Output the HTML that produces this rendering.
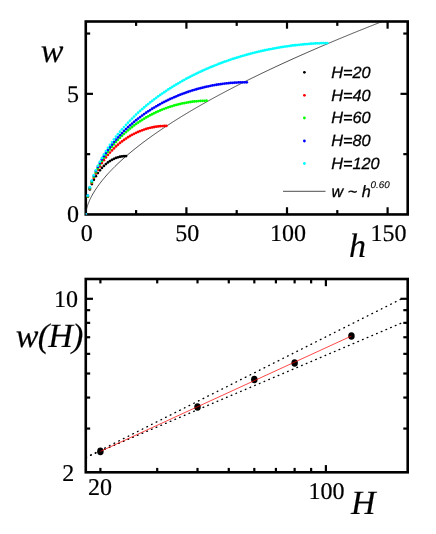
<!DOCTYPE html>
<html><head><meta charset="utf-8"><title>w vs h</title>
<style>
html,body{margin:0;padding:0;background:#fff}
svg{display:block;will-change:transform;text-rendering:geometricPrecision}
text{font-family:"Liberation Serif",serif;fill:#000;stroke:#000;stroke-width:0.18px}
.s{font-family:"Liberation Sans",sans-serif;font-style:italic;stroke-width:0.3px}
.i{font-style:italic}
</style></head><body>
<svg width="436" height="534" viewBox="0 0 436 534">
<rect width="436" height="534" fill="#fff"/>
<defs><clipPath id="c1"><rect x="85.77" y="21.5" width="321.93" height="192.95"/></clipPath>
<clipPath id="c2"><rect x="85.77" y="279.0" width="321.93" height="193.30"/></clipPath></defs>
<g stroke="#000" stroke-width="2.2">
<line x1="186.40" y1="214.45" x2="186.40" y2="207.25"/>
<line x1="186.40" y1="21.50" x2="186.40" y2="28.70"/>
<line x1="287.00" y1="214.45" x2="287.00" y2="207.25"/>
<line x1="287.00" y1="21.50" x2="287.00" y2="28.70"/>
<line x1="387.60" y1="214.45" x2="387.60" y2="207.25"/>
<line x1="387.60" y1="21.50" x2="387.60" y2="28.70"/>
<line x1="136.10" y1="214.45" x2="136.10" y2="210.05"/>
<line x1="136.10" y1="21.50" x2="136.10" y2="25.90"/>
<line x1="236.70" y1="214.45" x2="236.70" y2="210.05"/>
<line x1="236.70" y1="21.50" x2="236.70" y2="25.90"/>
<line x1="337.30" y1="214.45" x2="337.30" y2="210.05"/>
<line x1="337.30" y1="21.50" x2="337.30" y2="25.90"/>
<line x1="85.77" y1="93.85" x2="92.97" y2="93.85"/>
<line x1="407.70" y1="93.85" x2="400.50" y2="93.85"/>
<line x1="85.77" y1="154.15" x2="90.17" y2="154.15"/>
<line x1="407.70" y1="154.15" x2="403.30" y2="154.15"/>
<line x1="85.77" y1="33.55" x2="90.17" y2="33.55"/>
<line x1="407.70" y1="33.55" x2="403.30" y2="33.55"/>
</g>
<rect x="85.77" y="21.5" width="321.93" height="192.95" fill="none" stroke="#000" stroke-width="2.6"/>
<g clip-path="url(#c1)">
<polyline fill="none" stroke="#111" stroke-width="0.75" points="85.80,214.45 86.00,212.03 86.20,210.78 86.40,209.76 86.60,208.88 86.81,208.08 87.01,207.35 87.21,206.66 87.41,206.01 87.61,205.39 87.81,204.80 88.01,204.23 88.21,203.69 88.42,203.16 88.62,202.64 88.82,202.14 89.02,201.66 89.22,201.19 89.42,200.72 89.62,200.27 89.82,199.83 90.03,199.39 90.23,198.97 90.43,198.55 90.63,198.14 90.83,197.73 91.03,197.33 91.23,196.94 91.43,196.55 91.63,196.17 91.84,195.80 92.84,193.99 93.85,192.28 94.85,190.66 95.86,189.11 96.87,187.62 97.87,186.18 98.88,184.79 99.88,183.44 100.89,182.13 101.90,180.85 102.90,179.61 103.91,178.39 104.91,177.20 105.92,176.04 106.93,174.90 107.93,173.78 108.94,172.68 109.94,171.60 110.95,170.54 111.96,169.49 112.96,168.46 113.97,167.45 114.97,166.45 115.98,165.46 116.99,164.49 117.99,163.53 119.00,162.58 120.00,161.64 121.01,160.71 122.02,159.80 123.02,158.89 124.03,158.00 125.03,157.11 126.04,156.23 127.05,155.36 128.05,154.50 129.06,153.65 130.06,152.81 131.07,151.97 132.08,151.14 133.08,150.32 134.09,149.50 135.09,148.69 136.10,147.89 137.11,147.10 138.11,146.31 139.12,145.52 140.12,144.75 141.13,143.97 142.14,143.21 143.14,142.45 144.15,141.69 145.15,140.94 146.16,140.20 147.17,139.46 148.17,138.72 149.18,137.99 150.18,137.27 151.19,136.54 152.20,135.83 153.20,135.12 154.21,134.41 155.21,133.70 156.22,133.00 157.23,132.31 158.23,131.61 159.24,130.93 160.24,130.24 161.25,129.56 162.26,128.88 163.26,128.21 164.27,127.54 165.27,126.87 166.28,126.21 167.29,125.55 168.29,124.89 169.30,124.24 170.30,123.59 171.31,122.94 172.32,122.30 173.32,121.65 174.33,121.02 175.33,120.38 176.34,119.75 177.35,119.12 178.35,118.49 179.36,117.87 180.36,117.24 181.37,116.62 182.38,116.01 183.38,115.39 184.39,114.78 185.39,114.17 186.40,113.57 187.41,112.96 188.41,112.36 189.42,111.76 190.42,111.16 191.43,110.57 192.44,109.98 193.44,109.39 194.45,108.80 195.45,108.21 196.46,107.63 197.47,107.05 198.47,106.47 199.48,105.89 200.48,105.32 201.49,104.74 202.50,104.17 203.50,103.60 204.51,103.03 205.51,102.47 206.52,101.90 207.53,101.34 208.53,100.78 209.54,100.22 210.54,99.67 211.55,99.11 212.56,98.56 213.56,98.01 214.57,97.46 215.57,96.91 216.58,96.37 217.59,95.82 218.59,95.28 219.60,94.74 220.60,94.20 221.61,93.66 222.62,93.13 223.62,92.59 224.63,92.06 225.63,91.53 226.64,91.00 227.65,90.47 228.65,89.94 229.66,89.42 230.66,88.89 231.67,88.37 232.68,87.85 233.68,87.33 234.69,86.81 235.69,86.30 236.70,85.78 237.71,85.27 238.71,84.75 239.72,84.24 240.72,83.73 241.73,83.22 242.74,82.72 243.74,82.21 244.75,81.71 245.75,81.20 246.76,80.70 247.77,80.20 248.77,79.70 249.78,79.20 250.78,78.70 251.79,78.21 252.80,77.71 253.80,77.22 254.81,76.73 255.81,76.24 256.82,75.75 257.83,75.26 258.83,74.77 259.84,74.28 260.84,73.80 261.85,73.31 262.86,72.83 263.86,72.35 264.87,71.87 265.87,71.39 266.88,70.91 267.89,70.43 268.89,69.95 269.90,69.48 270.90,69.00 271.91,68.53 272.92,68.05 273.92,67.58 274.93,67.11 275.93,66.64 276.94,66.17 277.95,65.71 278.95,65.24 279.96,64.77 280.96,64.31 281.97,63.84 282.98,63.38 283.98,62.92 284.99,62.46 285.99,62.00 287.00,61.54 288.01,61.08 289.01,60.62 290.02,60.17 291.02,59.71 292.03,59.26 293.04,58.80 294.04,58.35 295.05,57.90 296.05,57.45 297.06,57.00 298.07,56.55 299.07,56.10 300.08,55.65 301.08,55.20 302.09,54.76 303.10,54.31 304.10,53.87 305.11,53.43 306.11,52.98 307.12,52.54 308.13,52.10 309.13,51.66 310.14,51.22 311.14,50.78 312.15,50.34 313.16,49.91 314.16,49.47 315.17,49.03 316.17,48.60 317.18,48.16 318.19,47.73 319.19,47.30 320.20,46.87 321.20,46.43 322.21,46.00 323.22,45.57 324.22,45.15 325.23,44.72 326.23,44.29 327.24,43.86 328.25,43.44 329.25,43.01 330.26,42.59 331.26,42.16 332.27,41.74 333.28,41.32 334.28,40.89 335.29,40.47 336.29,40.05 337.30,39.63 338.31,39.21 339.31,38.80 340.32,38.38 341.32,37.96 342.33,37.54 343.34,37.13 344.34,36.71 345.35,36.30 346.35,35.88 347.36,35.47 348.37,35.06 349.37,34.65 350.38,34.23 351.38,33.82 352.39,33.41 353.40,33.00 354.40,32.59 355.41,32.19 356.41,31.78 357.42,31.37 358.43,30.96 359.43,30.56 360.44,30.15 361.44,29.75 362.45,29.34 363.46,28.94 364.46,28.54 365.47,28.14 366.47,27.73 367.48,27.33 368.49,26.93 369.49,26.53 370.50,26.13 371.50,25.73 372.51,25.33 373.52,24.94 374.52,24.54 375.53,24.14 376.53,23.75 377.54,23.35 378.55,22.96 379.55,22.56 380.56,22.17 381.56,21.77 382.57,21.38 383.58,20.99 384.58,20.60 385.59,20.21"/>
<g fill="#000">
<circle cx="85.80" cy="214.45" r="1.38"/>
<circle cx="87.81" cy="196.64" r="1.38"/>
<circle cx="89.82" cy="189.43" r="1.38"/>
<circle cx="91.84" cy="184.09" r="1.38"/>
<circle cx="93.85" cy="179.78" r="1.38"/>
<circle cx="95.86" cy="176.16" r="1.38"/>
<circle cx="97.87" cy="173.04" r="1.38"/>
<circle cx="99.88" cy="170.34" r="1.38"/>
<circle cx="101.90" cy="167.96" r="1.38"/>
<circle cx="103.91" cy="165.88" r="1.38"/>
<circle cx="105.92" cy="164.04" r="1.38"/>
<circle cx="107.93" cy="162.44" r="1.38"/>
<circle cx="109.94" cy="161.05" r="1.38"/>
<circle cx="111.96" cy="159.84" r="1.38"/>
<circle cx="113.97" cy="158.82" r="1.38"/>
<circle cx="115.98" cy="157.97" r="1.38"/>
<circle cx="117.99" cy="157.28" r="1.38"/>
<circle cx="120.00" cy="156.75" r="1.38"/>
<circle cx="122.02" cy="156.38" r="1.38"/>
<circle cx="124.03" cy="156.15" r="1.38"/>
<circle cx="126.04" cy="156.08" r="1.38"/>
</g>
<g fill="#f00">
<circle cx="85.80" cy="214.45" r="1.38"/>
<circle cx="87.81" cy="196.64" r="1.38"/>
<circle cx="89.82" cy="188.85" r="1.38"/>
<circle cx="91.84" cy="182.90" r="1.38"/>
<circle cx="93.85" cy="177.92" r="1.38"/>
<circle cx="95.86" cy="173.60" r="1.38"/>
<circle cx="97.87" cy="169.75" r="1.38"/>
<circle cx="99.88" cy="166.27" r="1.38"/>
<circle cx="101.90" cy="163.10" r="1.38"/>
<circle cx="103.91" cy="160.18" r="1.38"/>
<circle cx="105.92" cy="157.47" r="1.38"/>
<circle cx="107.93" cy="154.96" r="1.38"/>
<circle cx="109.94" cy="152.62" r="1.38"/>
<circle cx="111.96" cy="150.44" r="1.38"/>
<circle cx="113.97" cy="148.39" r="1.38"/>
<circle cx="115.98" cy="146.47" r="1.38"/>
<circle cx="117.99" cy="144.67" r="1.38"/>
<circle cx="120.00" cy="142.98" r="1.38"/>
<circle cx="122.02" cy="141.39" r="1.38"/>
<circle cx="124.03" cy="139.91" r="1.38"/>
<circle cx="126.04" cy="138.51" r="1.38"/>
<circle cx="128.05" cy="137.21" r="1.38"/>
<circle cx="130.06" cy="135.99" r="1.38"/>
<circle cx="132.08" cy="134.85" r="1.38"/>
<circle cx="134.09" cy="133.79" r="1.38"/>
<circle cx="136.10" cy="132.80" r="1.38"/>
<circle cx="138.11" cy="131.89" r="1.38"/>
<circle cx="140.12" cy="131.04" r="1.38"/>
<circle cx="142.14" cy="130.27" r="1.38"/>
<circle cx="144.15" cy="129.56" r="1.38"/>
<circle cx="146.16" cy="128.92" r="1.38"/>
<circle cx="148.17" cy="128.35" r="1.38"/>
<circle cx="150.18" cy="127.83" r="1.38"/>
<circle cx="152.20" cy="127.39" r="1.38"/>
<circle cx="154.21" cy="127.00" r="1.38"/>
<circle cx="156.22" cy="126.67" r="1.38"/>
<circle cx="158.23" cy="126.40" r="1.38"/>
<circle cx="160.24" cy="126.20" r="1.38"/>
<circle cx="162.26" cy="126.05" r="1.38"/>
<circle cx="164.27" cy="125.96" r="1.38"/>
<circle cx="166.28" cy="125.93" r="1.38"/>
</g>
<g fill="#0f0">
<circle cx="85.80" cy="214.45" r="1.38"/>
<circle cx="87.81" cy="196.41" r="1.38"/>
<circle cx="89.82" cy="188.37" r="1.38"/>
<circle cx="91.84" cy="182.16" r="1.38"/>
<circle cx="93.85" cy="176.93" r="1.38"/>
<circle cx="95.86" cy="172.34" r="1.38"/>
<circle cx="97.87" cy="168.22" r="1.38"/>
<circle cx="99.88" cy="164.45" r="1.38"/>
<circle cx="101.90" cy="160.98" r="1.38"/>
<circle cx="103.91" cy="157.75" r="1.38"/>
<circle cx="105.92" cy="154.73" r="1.38"/>
<circle cx="107.93" cy="151.90" r="1.38"/>
<circle cx="109.94" cy="149.22" r="1.38"/>
<circle cx="111.96" cy="146.68" r="1.38"/>
<circle cx="113.97" cy="144.27" r="1.38"/>
<circle cx="115.98" cy="141.99" r="1.38"/>
<circle cx="117.99" cy="139.81" r="1.38"/>
<circle cx="120.00" cy="137.72" r="1.38"/>
<circle cx="122.02" cy="135.74" r="1.38"/>
<circle cx="124.03" cy="133.84" r="1.38"/>
<circle cx="126.04" cy="132.02" r="1.38"/>
<circle cx="128.05" cy="130.27" r="1.38"/>
<circle cx="130.06" cy="128.60" r="1.38"/>
<circle cx="132.08" cy="127.00" r="1.38"/>
<circle cx="134.09" cy="125.46" r="1.38"/>
<circle cx="136.10" cy="123.99" r="1.38"/>
<circle cx="138.11" cy="122.58" r="1.38"/>
<circle cx="140.12" cy="121.22" r="1.38"/>
<circle cx="142.14" cy="119.92" r="1.38"/>
<circle cx="144.15" cy="118.68" r="1.38"/>
<circle cx="146.16" cy="117.48" r="1.38"/>
<circle cx="148.17" cy="116.34" r="1.38"/>
<circle cx="150.18" cy="115.24" r="1.38"/>
<circle cx="152.20" cy="114.19" r="1.38"/>
<circle cx="154.21" cy="113.19" r="1.38"/>
<circle cx="156.22" cy="112.23" r="1.38"/>
<circle cx="158.23" cy="111.32" r="1.38"/>
<circle cx="160.24" cy="110.44" r="1.38"/>
<circle cx="162.26" cy="109.61" r="1.38"/>
<circle cx="164.27" cy="108.83" r="1.38"/>
<circle cx="166.28" cy="108.08" r="1.38"/>
<circle cx="168.29" cy="107.37" r="1.38"/>
<circle cx="170.30" cy="106.70" r="1.38"/>
<circle cx="172.32" cy="106.06" r="1.38"/>
<circle cx="174.33" cy="105.47" r="1.38"/>
<circle cx="176.34" cy="104.91" r="1.38"/>
<circle cx="178.35" cy="104.39" r="1.38"/>
<circle cx="180.36" cy="103.90" r="1.38"/>
<circle cx="182.38" cy="103.45" r="1.38"/>
<circle cx="184.39" cy="103.04" r="1.38"/>
<circle cx="186.40" cy="102.66" r="1.38"/>
<circle cx="188.41" cy="102.31" r="1.38"/>
<circle cx="190.42" cy="102.00" r="1.38"/>
<circle cx="192.44" cy="101.72" r="1.38"/>
<circle cx="194.45" cy="101.48" r="1.38"/>
<circle cx="196.46" cy="101.27" r="1.38"/>
<circle cx="198.47" cy="101.09" r="1.38"/>
<circle cx="200.48" cy="100.95" r="1.38"/>
<circle cx="202.50" cy="100.84" r="1.38"/>
<circle cx="204.51" cy="100.77" r="1.38"/>
<circle cx="206.52" cy="100.72" r="1.38"/>
</g>
<g fill="#00f">
<circle cx="85.80" cy="214.45" r="1.38"/>
<circle cx="87.81" cy="195.66" r="1.38"/>
<circle cx="89.82" cy="187.45" r="1.38"/>
<circle cx="91.84" cy="181.12" r="1.38"/>
<circle cx="93.85" cy="175.78" r="1.38"/>
<circle cx="95.86" cy="171.09" r="1.38"/>
<circle cx="97.87" cy="166.88" r="1.38"/>
<circle cx="99.88" cy="163.02" r="1.38"/>
<circle cx="101.90" cy="159.45" r="1.38"/>
<circle cx="103.91" cy="156.13" r="1.38"/>
<circle cx="105.92" cy="153.01" r="1.38"/>
<circle cx="107.93" cy="150.06" r="1.38"/>
<circle cx="109.94" cy="147.28" r="1.38"/>
<circle cx="111.96" cy="144.63" r="1.38"/>
<circle cx="113.97" cy="142.10" r="1.38"/>
<circle cx="115.98" cy="139.69" r="1.38"/>
<circle cx="117.99" cy="137.38" r="1.38"/>
<circle cx="120.00" cy="135.17" r="1.38"/>
<circle cx="122.02" cy="133.04" r="1.38"/>
<circle cx="124.03" cy="130.99" r="1.38"/>
<circle cx="126.04" cy="129.02" r="1.38"/>
<circle cx="128.05" cy="127.13" r="1.38"/>
<circle cx="130.06" cy="125.29" r="1.38"/>
<circle cx="132.08" cy="123.53" r="1.38"/>
<circle cx="134.09" cy="121.82" r="1.38"/>
<circle cx="136.10" cy="120.17" r="1.38"/>
<circle cx="138.11" cy="118.57" r="1.38"/>
<circle cx="140.12" cy="117.03" r="1.38"/>
<circle cx="142.14" cy="115.54" r="1.38"/>
<circle cx="144.15" cy="114.09" r="1.38"/>
<circle cx="146.16" cy="112.69" r="1.38"/>
<circle cx="148.17" cy="111.33" r="1.38"/>
<circle cx="150.18" cy="110.02" r="1.38"/>
<circle cx="152.20" cy="108.75" r="1.38"/>
<circle cx="154.21" cy="107.52" r="1.38"/>
<circle cx="156.22" cy="106.32" r="1.38"/>
<circle cx="158.23" cy="105.17" r="1.38"/>
<circle cx="160.24" cy="104.05" r="1.38"/>
<circle cx="162.26" cy="102.96" r="1.38"/>
<circle cx="164.27" cy="101.91" r="1.38"/>
<circle cx="166.28" cy="100.90" r="1.38"/>
<circle cx="168.29" cy="99.92" r="1.38"/>
<circle cx="170.30" cy="98.97" r="1.38"/>
<circle cx="172.32" cy="98.05" r="1.38"/>
<circle cx="174.33" cy="97.16" r="1.38"/>
<circle cx="176.34" cy="96.30" r="1.38"/>
<circle cx="178.35" cy="95.47" r="1.38"/>
<circle cx="180.36" cy="94.67" r="1.38"/>
<circle cx="182.38" cy="93.90" r="1.38"/>
<circle cx="184.39" cy="93.15" r="1.38"/>
<circle cx="186.40" cy="92.44" r="1.38"/>
<circle cx="188.41" cy="91.75" r="1.38"/>
<circle cx="190.42" cy="91.08" r="1.38"/>
<circle cx="192.44" cy="90.45" r="1.38"/>
<circle cx="194.45" cy="89.84" r="1.38"/>
<circle cx="196.46" cy="89.25" r="1.38"/>
<circle cx="198.47" cy="88.69" r="1.38"/>
<circle cx="200.48" cy="88.16" r="1.38"/>
<circle cx="202.50" cy="87.65" r="1.38"/>
<circle cx="204.51" cy="87.16" r="1.38"/>
<circle cx="206.52" cy="86.70" r="1.38"/>
<circle cx="208.53" cy="86.26" r="1.38"/>
<circle cx="210.54" cy="85.85" r="1.38"/>
<circle cx="212.56" cy="85.46" r="1.38"/>
<circle cx="214.57" cy="85.09" r="1.38"/>
<circle cx="216.58" cy="84.75" r="1.38"/>
<circle cx="218.59" cy="84.43" r="1.38"/>
<circle cx="220.60" cy="84.13" r="1.38"/>
<circle cx="222.62" cy="83.85" r="1.38"/>
<circle cx="224.63" cy="83.60" r="1.38"/>
<circle cx="226.64" cy="83.37" r="1.38"/>
<circle cx="228.65" cy="83.16" r="1.38"/>
<circle cx="230.66" cy="82.97" r="1.38"/>
<circle cx="232.68" cy="82.81" r="1.38"/>
<circle cx="234.69" cy="82.67" r="1.38"/>
<circle cx="236.70" cy="82.55" r="1.38"/>
<circle cx="238.71" cy="82.45" r="1.38"/>
<circle cx="240.72" cy="82.37" r="1.38"/>
<circle cx="242.74" cy="82.32" r="1.38"/>
<circle cx="244.75" cy="82.28" r="1.38"/>
<circle cx="246.76" cy="82.27" r="1.38"/>
</g>
<g fill="#0ff">
<circle cx="85.80" cy="214.45" r="1.38"/>
<circle cx="87.81" cy="195.60" r="1.38"/>
<circle cx="89.82" cy="187.20" r="1.38"/>
<circle cx="91.84" cy="180.68" r="1.38"/>
<circle cx="93.85" cy="175.14" r="1.38"/>
<circle cx="95.86" cy="170.26" r="1.38"/>
<circle cx="97.87" cy="165.83" r="1.38"/>
<circle cx="99.88" cy="161.77" r="1.38"/>
<circle cx="101.90" cy="158.00" r="1.38"/>
<circle cx="103.91" cy="154.46" r="1.38"/>
<circle cx="105.92" cy="151.12" r="1.38"/>
<circle cx="107.93" cy="147.96" r="1.38"/>
<circle cx="109.94" cy="144.95" r="1.38"/>
<circle cx="111.96" cy="142.08" r="1.38"/>
<circle cx="113.97" cy="139.32" r="1.38"/>
<circle cx="115.98" cy="136.68" r="1.38"/>
<circle cx="117.99" cy="134.13" r="1.38"/>
<circle cx="120.00" cy="131.67" r="1.38"/>
<circle cx="122.02" cy="129.30" r="1.38"/>
<circle cx="124.03" cy="127.01" r="1.38"/>
<circle cx="126.04" cy="124.79" r="1.38"/>
<circle cx="128.05" cy="122.63" r="1.38"/>
<circle cx="130.06" cy="120.54" r="1.38"/>
<circle cx="132.08" cy="118.51" r="1.38"/>
<circle cx="134.09" cy="116.53" r="1.38"/>
<circle cx="136.10" cy="114.61" r="1.38"/>
<circle cx="138.11" cy="112.74" r="1.38"/>
<circle cx="140.12" cy="110.92" r="1.38"/>
<circle cx="142.14" cy="109.14" r="1.38"/>
<circle cx="144.15" cy="107.41" r="1.38"/>
<circle cx="146.16" cy="105.72" r="1.38"/>
<circle cx="148.17" cy="104.06" r="1.38"/>
<circle cx="150.18" cy="102.45" r="1.38"/>
<circle cx="152.20" cy="100.88" r="1.38"/>
<circle cx="154.21" cy="99.34" r="1.38"/>
<circle cx="156.22" cy="97.83" r="1.38"/>
<circle cx="158.23" cy="96.36" r="1.38"/>
<circle cx="160.24" cy="94.92" r="1.38"/>
<circle cx="162.26" cy="93.51" r="1.38"/>
<circle cx="164.27" cy="92.13" r="1.38"/>
<circle cx="166.28" cy="90.78" r="1.38"/>
<circle cx="168.29" cy="89.46" r="1.38"/>
<circle cx="170.30" cy="88.17" r="1.38"/>
<circle cx="172.32" cy="86.90" r="1.38"/>
<circle cx="174.33" cy="85.66" r="1.38"/>
<circle cx="176.34" cy="84.45" r="1.38"/>
<circle cx="178.35" cy="83.26" r="1.38"/>
<circle cx="180.36" cy="82.10" r="1.38"/>
<circle cx="182.38" cy="80.95" r="1.38"/>
<circle cx="184.39" cy="79.84" r="1.38"/>
<circle cx="186.40" cy="78.74" r="1.38"/>
<circle cx="188.41" cy="77.67" r="1.38"/>
<circle cx="190.42" cy="76.62" r="1.38"/>
<circle cx="192.44" cy="75.59" r="1.38"/>
<circle cx="194.45" cy="74.58" r="1.38"/>
<circle cx="196.46" cy="73.59" r="1.38"/>
<circle cx="198.47" cy="72.62" r="1.38"/>
<circle cx="200.48" cy="71.67" r="1.38"/>
<circle cx="202.50" cy="70.75" r="1.38"/>
<circle cx="204.51" cy="69.84" r="1.38"/>
<circle cx="206.52" cy="68.95" r="1.38"/>
<circle cx="208.53" cy="68.07" r="1.38"/>
<circle cx="210.54" cy="67.22" r="1.38"/>
<circle cx="212.56" cy="66.38" r="1.38"/>
<circle cx="214.57" cy="65.56" r="1.38"/>
<circle cx="216.58" cy="64.76" r="1.38"/>
<circle cx="218.59" cy="63.98" r="1.38"/>
<circle cx="220.60" cy="63.21" r="1.38"/>
<circle cx="222.62" cy="62.46" r="1.38"/>
<circle cx="224.63" cy="61.73" r="1.38"/>
<circle cx="226.64" cy="61.01" r="1.38"/>
<circle cx="228.65" cy="60.31" r="1.38"/>
<circle cx="230.66" cy="59.62" r="1.38"/>
<circle cx="232.68" cy="58.95" r="1.38"/>
<circle cx="234.69" cy="58.30" r="1.38"/>
<circle cx="236.70" cy="57.66" r="1.38"/>
<circle cx="238.71" cy="57.04" r="1.38"/>
<circle cx="240.72" cy="56.43" r="1.38"/>
<circle cx="242.74" cy="55.84" r="1.38"/>
<circle cx="244.75" cy="55.26" r="1.38"/>
<circle cx="246.76" cy="54.69" r="1.38"/>
<circle cx="248.77" cy="54.14" r="1.38"/>
<circle cx="250.78" cy="53.61" r="1.38"/>
<circle cx="252.80" cy="53.09" r="1.38"/>
<circle cx="254.81" cy="52.58" r="1.38"/>
<circle cx="256.82" cy="52.09" r="1.38"/>
<circle cx="258.83" cy="51.61" r="1.38"/>
<circle cx="260.84" cy="51.14" r="1.38"/>
<circle cx="262.86" cy="50.69" r="1.38"/>
<circle cx="264.87" cy="50.25" r="1.38"/>
<circle cx="266.88" cy="49.83" r="1.38"/>
<circle cx="268.89" cy="49.41" r="1.38"/>
<circle cx="270.90" cy="49.02" r="1.38"/>
<circle cx="272.92" cy="48.63" r="1.38"/>
<circle cx="274.93" cy="48.26" r="1.38"/>
<circle cx="276.94" cy="47.90" r="1.38"/>
<circle cx="278.95" cy="47.55" r="1.38"/>
<circle cx="280.96" cy="47.22" r="1.38"/>
<circle cx="282.98" cy="46.90" r="1.38"/>
<circle cx="284.99" cy="46.59" r="1.38"/>
<circle cx="287.00" cy="46.30" r="1.38"/>
<circle cx="289.01" cy="46.02" r="1.38"/>
<circle cx="291.02" cy="45.75" r="1.38"/>
<circle cx="293.04" cy="45.49" r="1.38"/>
<circle cx="295.05" cy="45.25" r="1.38"/>
<circle cx="297.06" cy="45.01" r="1.38"/>
<circle cx="299.07" cy="44.79" r="1.38"/>
<circle cx="301.08" cy="44.59" r="1.38"/>
<circle cx="303.10" cy="44.39" r="1.38"/>
<circle cx="305.11" cy="44.21" r="1.38"/>
<circle cx="307.12" cy="44.04" r="1.38"/>
<circle cx="309.13" cy="43.88" r="1.38"/>
<circle cx="311.14" cy="43.74" r="1.38"/>
<circle cx="313.16" cy="43.60" r="1.38"/>
<circle cx="315.17" cy="43.48" r="1.38"/>
<circle cx="317.18" cy="43.37" r="1.38"/>
<circle cx="319.19" cy="43.27" r="1.38"/>
<circle cx="321.20" cy="43.19" r="1.38"/>
<circle cx="323.22" cy="43.12" r="1.38"/>
<circle cx="325.23" cy="43.05" r="1.38"/>
<circle cx="327.24" cy="43.01" r="1.38"/>
</g>
</g>
<text x="86.70" y="241" font-size="24" text-anchor="middle">0</text>
<text x="187.30" y="241" font-size="24" text-anchor="middle">50</text>
<text x="287.90" y="241" font-size="24" text-anchor="middle">100</text>
<text x="388.50" y="241" font-size="24" text-anchor="middle">150</text>
<text x="79" y="222.3" font-size="24" text-anchor="end">0</text>
<text x="79" y="101.7" font-size="24" text-anchor="end">5</text>
<text x="40.8" y="62.2" font-size="34" class="i">w</text>
<text x="349.0" y="256.5" font-size="34" class="i">h</text>
<circle cx="304.4" cy="72.3" r="1.4" fill="#000"/>
<text class="s" x="331.2" y="78" font-size="16.3">H=20</text>
<circle cx="304.4" cy="95.3" r="1.4" fill="#f00"/>
<text class="s" x="331.2" y="100.7" font-size="16.3">H=40</text>
<circle cx="304.4" cy="118.0" r="1.4" fill="#0f0"/>
<text class="s" x="331.2" y="123.3" font-size="16.3">H=60</text>
<circle cx="304.4" cy="141.0" r="1.4" fill="#00f"/>
<text class="s" x="331.2" y="146.3" font-size="16.3">H=80</text>
<circle cx="304.4" cy="163.5" r="1.4" fill="#0ff"/>
<text class="s" x="331.2" y="169" font-size="16.3">H=120</text>
<line x1="283" y1="191.3" x2="325.5" y2="191.3" stroke="#111" stroke-width="0.75"/>
<text class="s" x="331.6" y="197" font-size="16.2">w ~ h</text>
<text class="s" x="370.6" y="188" font-size="9.8" style="stroke-width:0.1px">0.60</text>
<g stroke="#000" stroke-width="2.2">
<line x1="100.40" y1="472.30" x2="100.40" y2="467.90"/>
<line x1="100.40" y1="279.00" x2="100.40" y2="283.40"/>
<line x1="157.21" y1="472.30" x2="157.21" y2="467.90"/>
<line x1="157.21" y1="279.00" x2="157.21" y2="283.40"/>
<line x1="197.51" y1="472.30" x2="197.51" y2="467.90"/>
<line x1="197.51" y1="279.00" x2="197.51" y2="283.40"/>
<line x1="228.78" y1="472.30" x2="228.78" y2="467.90"/>
<line x1="228.78" y1="279.00" x2="228.78" y2="283.40"/>
<line x1="254.32" y1="472.30" x2="254.32" y2="467.90"/>
<line x1="254.32" y1="279.00" x2="254.32" y2="283.40"/>
<line x1="275.92" y1="472.30" x2="275.92" y2="467.90"/>
<line x1="275.92" y1="279.00" x2="275.92" y2="283.40"/>
<line x1="294.62" y1="472.30" x2="294.62" y2="467.90"/>
<line x1="294.62" y1="279.00" x2="294.62" y2="283.40"/>
<line x1="311.13" y1="472.30" x2="311.13" y2="467.90"/>
<line x1="311.13" y1="279.00" x2="311.13" y2="283.40"/>
<line x1="325.89" y1="472.30" x2="325.89" y2="465.10"/>
<line x1="325.89" y1="279.00" x2="325.89" y2="286.20"/>
<line x1="85.77" y1="428.58" x2="90.17" y2="428.58"/>
<line x1="407.70" y1="428.58" x2="403.30" y2="428.58"/>
<line x1="85.77" y1="397.57" x2="90.17" y2="397.57"/>
<line x1="407.70" y1="397.57" x2="403.30" y2="397.57"/>
<line x1="85.77" y1="373.52" x2="90.17" y2="373.52"/>
<line x1="407.70" y1="373.52" x2="403.30" y2="373.52"/>
<line x1="85.77" y1="353.86" x2="90.17" y2="353.86"/>
<line x1="407.70" y1="353.86" x2="403.30" y2="353.86"/>
<line x1="85.77" y1="337.25" x2="90.17" y2="337.25"/>
<line x1="407.70" y1="337.25" x2="403.30" y2="337.25"/>
<line x1="85.77" y1="322.85" x2="90.17" y2="322.85"/>
<line x1="407.70" y1="322.85" x2="403.30" y2="322.85"/>
<line x1="85.77" y1="310.16" x2="90.17" y2="310.16"/>
<line x1="407.70" y1="310.16" x2="403.30" y2="310.16"/>
<line x1="85.77" y1="298.80" x2="92.97" y2="298.80"/>
<line x1="407.70" y1="298.80" x2="400.50" y2="298.80"/>
</g>
<rect x="85.77" y="279.0" width="321.93" height="193.30" fill="none" stroke="#000" stroke-width="2.6"/>
<g clip-path="url(#c2)">
<g stroke="#000" stroke-width="1.35" stroke-linecap="round">
<line x1="85.90" y1="457.51" x2="86.52" y2="457.20"/>
<line x1="90.59" y1="455.16" x2="91.21" y2="454.84"/>
<line x1="95.28" y1="452.80" x2="95.90" y2="452.49"/>
<line x1="99.97" y1="450.44" x2="100.59" y2="450.13"/>
<line x1="104.65" y1="448.09" x2="105.28" y2="447.77"/>
<line x1="109.34" y1="445.73" x2="109.97" y2="445.41"/>
<line x1="114.03" y1="443.37" x2="114.66" y2="443.06"/>
<line x1="118.72" y1="441.01" x2="119.35" y2="440.70"/>
<line x1="123.41" y1="438.66" x2="124.04" y2="438.34"/>
<line x1="128.10" y1="436.30" x2="128.72" y2="435.98"/>
<line x1="132.79" y1="433.94" x2="133.41" y2="433.63"/>
<line x1="137.48" y1="431.58" x2="138.10" y2="431.27"/>
<line x1="142.17" y1="429.23" x2="142.79" y2="428.91"/>
<line x1="146.86" y1="426.87" x2="147.48" y2="426.55"/>
<line x1="151.54" y1="424.51" x2="152.17" y2="424.20"/>
<line x1="156.23" y1="422.15" x2="156.86" y2="421.84"/>
<line x1="160.92" y1="419.80" x2="161.55" y2="419.48"/>
<line x1="165.61" y1="417.44" x2="166.24" y2="417.12"/>
<line x1="170.30" y1="415.08" x2="170.93" y2="414.77"/>
<line x1="174.99" y1="412.72" x2="175.61" y2="412.41"/>
<line x1="179.68" y1="410.37" x2="180.30" y2="410.05"/>
<line x1="184.37" y1="408.01" x2="184.99" y2="407.70"/>
<line x1="189.06" y1="405.65" x2="189.68" y2="405.34"/>
<line x1="193.75" y1="403.29" x2="194.37" y2="402.98"/>
<line x1="198.43" y1="400.94" x2="199.06" y2="400.62"/>
<line x1="203.12" y1="398.58" x2="203.75" y2="398.27"/>
<line x1="207.81" y1="396.22" x2="208.44" y2="395.91"/>
<line x1="212.50" y1="393.87" x2="213.13" y2="393.55"/>
<line x1="217.19" y1="391.51" x2="217.82" y2="391.19"/>
<line x1="221.88" y1="389.15" x2="222.50" y2="388.84"/>
<line x1="226.57" y1="386.79" x2="227.19" y2="386.48"/>
<line x1="231.26" y1="384.44" x2="231.88" y2="384.12"/>
<line x1="235.95" y1="382.08" x2="236.57" y2="381.76"/>
<line x1="240.64" y1="379.72" x2="241.26" y2="379.41"/>
<line x1="245.32" y1="377.36" x2="245.95" y2="377.05"/>
<line x1="250.01" y1="375.01" x2="250.64" y2="374.69"/>
<line x1="254.70" y1="372.65" x2="255.33" y2="372.33"/>
<line x1="259.39" y1="370.29" x2="260.02" y2="369.98"/>
<line x1="264.08" y1="367.93" x2="264.71" y2="367.62"/>
<line x1="268.77" y1="365.58" x2="269.39" y2="365.26"/>
<line x1="273.46" y1="363.22" x2="274.08" y2="362.91"/>
<line x1="278.15" y1="360.86" x2="278.77" y2="360.55"/>
<line x1="282.84" y1="358.50" x2="283.46" y2="358.19"/>
<line x1="287.53" y1="356.15" x2="288.15" y2="355.83"/>
<line x1="292.21" y1="353.79" x2="292.84" y2="353.48"/>
<line x1="296.90" y1="351.43" x2="297.53" y2="351.12"/>
<line x1="301.59" y1="349.08" x2="302.22" y2="348.76"/>
<line x1="306.28" y1="346.72" x2="306.91" y2="346.40"/>
<line x1="310.97" y1="344.36" x2="311.60" y2="344.05"/>
<line x1="315.66" y1="342.00" x2="316.28" y2="341.69"/>
<line x1="320.35" y1="339.65" x2="320.97" y2="339.33"/>
<line x1="325.04" y1="337.29" x2="325.66" y2="336.97"/>
<line x1="329.73" y1="334.93" x2="330.35" y2="334.62"/>
<line x1="334.42" y1="332.57" x2="335.04" y2="332.26"/>
<line x1="339.10" y1="330.22" x2="339.73" y2="329.90"/>
<line x1="343.79" y1="327.86" x2="344.42" y2="327.54"/>
<line x1="348.48" y1="325.50" x2="349.11" y2="325.19"/>
<line x1="353.17" y1="323.14" x2="353.80" y2="322.83"/>
<line x1="357.86" y1="320.79" x2="358.49" y2="320.47"/>
<line x1="362.55" y1="318.43" x2="363.17" y2="318.11"/>
<line x1="367.24" y1="316.07" x2="367.86" y2="315.76"/>
<line x1="371.93" y1="313.71" x2="372.55" y2="313.40"/>
<line x1="376.62" y1="311.36" x2="377.24" y2="311.04"/>
<line x1="381.31" y1="309.00" x2="381.93" y2="308.69"/>
<line x1="385.99" y1="306.64" x2="386.62" y2="306.33"/>
<line x1="390.68" y1="304.29" x2="391.31" y2="303.97"/>
<line x1="395.37" y1="301.93" x2="396.00" y2="301.61"/>
<line x1="400.06" y1="299.57" x2="400.69" y2="299.26"/>
</g>
<g stroke="#000" stroke-width="1.35" stroke-linecap="round">
<line x1="85.89" y1="457.33" x2="86.53" y2="457.06"/>
<line x1="90.58" y1="455.34" x2="91.22" y2="455.06"/>
<line x1="95.27" y1="453.34" x2="95.91" y2="453.07"/>
<line x1="99.96" y1="451.35" x2="100.60" y2="451.07"/>
<line x1="104.64" y1="449.35" x2="105.29" y2="449.08"/>
<line x1="109.33" y1="447.36" x2="109.98" y2="447.08"/>
<line x1="114.02" y1="445.36" x2="114.67" y2="445.09"/>
<line x1="118.71" y1="443.37" x2="119.36" y2="443.09"/>
<line x1="123.40" y1="441.37" x2="124.05" y2="441.10"/>
<line x1="128.09" y1="439.38" x2="128.73" y2="439.10"/>
<line x1="132.78" y1="437.38" x2="133.42" y2="437.11"/>
<line x1="137.47" y1="435.39" x2="138.11" y2="435.11"/>
<line x1="142.16" y1="433.39" x2="142.80" y2="433.12"/>
<line x1="146.85" y1="431.40" x2="147.49" y2="431.12"/>
<line x1="151.53" y1="429.40" x2="152.18" y2="429.13"/>
<line x1="156.22" y1="427.41" x2="156.87" y2="427.13"/>
<line x1="160.91" y1="425.41" x2="161.56" y2="425.14"/>
<line x1="165.60" y1="423.42" x2="166.25" y2="423.15"/>
<line x1="170.29" y1="421.42" x2="170.94" y2="421.15"/>
<line x1="174.98" y1="419.43" x2="175.62" y2="419.16"/>
<line x1="179.67" y1="417.43" x2="180.31" y2="417.16"/>
<line x1="184.36" y1="415.44" x2="185.00" y2="415.17"/>
<line x1="189.05" y1="413.44" x2="189.69" y2="413.17"/>
<line x1="193.74" y1="411.45" x2="194.38" y2="411.18"/>
<line x1="198.42" y1="409.46" x2="199.07" y2="409.18"/>
<line x1="203.11" y1="407.46" x2="203.76" y2="407.19"/>
<line x1="207.80" y1="405.47" x2="208.45" y2="405.19"/>
<line x1="212.49" y1="403.47" x2="213.14" y2="403.20"/>
<line x1="217.18" y1="401.48" x2="217.83" y2="401.20"/>
<line x1="221.87" y1="399.48" x2="222.51" y2="399.21"/>
<line x1="226.56" y1="397.49" x2="227.20" y2="397.21"/>
<line x1="231.25" y1="395.49" x2="231.89" y2="395.22"/>
<line x1="235.94" y1="393.50" x2="236.58" y2="393.22"/>
<line x1="240.63" y1="391.50" x2="241.27" y2="391.23"/>
<line x1="245.31" y1="389.51" x2="245.96" y2="389.23"/>
<line x1="250.00" y1="387.51" x2="250.65" y2="387.24"/>
<line x1="254.69" y1="385.52" x2="255.34" y2="385.24"/>
<line x1="259.38" y1="383.52" x2="260.03" y2="383.25"/>
<line x1="264.07" y1="381.53" x2="264.72" y2="381.25"/>
<line x1="268.76" y1="379.53" x2="269.40" y2="379.26"/>
<line x1="273.45" y1="377.54" x2="274.09" y2="377.26"/>
<line x1="278.14" y1="375.54" x2="278.78" y2="375.27"/>
<line x1="282.83" y1="373.55" x2="283.47" y2="373.27"/>
<line x1="287.52" y1="371.55" x2="288.16" y2="371.28"/>
<line x1="292.20" y1="369.56" x2="292.85" y2="369.28"/>
<line x1="296.89" y1="367.56" x2="297.54" y2="367.29"/>
<line x1="301.58" y1="365.57" x2="302.23" y2="365.29"/>
<line x1="306.27" y1="363.57" x2="306.92" y2="363.30"/>
<line x1="310.96" y1="361.58" x2="311.61" y2="361.30"/>
<line x1="315.65" y1="359.58" x2="316.29" y2="359.31"/>
<line x1="320.34" y1="357.59" x2="320.98" y2="357.31"/>
<line x1="325.03" y1="355.59" x2="325.67" y2="355.32"/>
<line x1="329.72" y1="353.60" x2="330.36" y2="353.32"/>
<line x1="334.41" y1="351.60" x2="335.05" y2="351.33"/>
<line x1="339.09" y1="349.61" x2="339.74" y2="349.33"/>
<line x1="343.78" y1="347.61" x2="344.43" y2="347.34"/>
<line x1="348.47" y1="345.62" x2="349.12" y2="345.35"/>
<line x1="353.16" y1="343.62" x2="353.81" y2="343.35"/>
<line x1="357.85" y1="341.63" x2="358.50" y2="341.36"/>
<line x1="362.54" y1="339.63" x2="363.18" y2="339.36"/>
<line x1="367.23" y1="337.64" x2="367.87" y2="337.37"/>
<line x1="371.92" y1="335.64" x2="372.56" y2="335.37"/>
<line x1="376.61" y1="333.65" x2="377.25" y2="333.38"/>
<line x1="381.30" y1="331.66" x2="381.94" y2="331.38"/>
<line x1="385.98" y1="329.66" x2="386.63" y2="329.39"/>
<line x1="390.67" y1="327.67" x2="391.32" y2="327.39"/>
<line x1="395.36" y1="325.67" x2="396.01" y2="325.40"/>
<line x1="400.05" y1="323.68" x2="400.70" y2="323.40"/>
</g>
<ellipse cx="100.40" cy="451.38" rx="3.25" ry="3.8" fill="#000"/>
<ellipse cx="197.51" cy="407.00" rx="3.25" ry="3.8" fill="#000"/>
<ellipse cx="254.32" cy="379.50" rx="3.25" ry="3.8" fill="#000"/>
<ellipse cx="294.62" cy="363.05" rx="3.25" ry="3.8" fill="#000"/>
<ellipse cx="351.43" cy="336.02" rx="3.25" ry="3.8" fill="#000"/>
<line x1="100.40" y1="451.38" x2="351.43" y2="336.02" stroke="#f00" stroke-width="0.9" stroke-opacity="0.8"/>
</g>
<text x="99.90" y="495" font-size="24" text-anchor="middle">20</text>
<text x="326.39" y="499" font-size="24" text-anchor="middle">100</text>
<text x="74.2" y="481.2" font-size="24" text-anchor="end">2</text>
<text x="78" y="306.6" font-size="24" text-anchor="end">10</text>
<text x="15.8" y="346.7" font-size="34" class="i" letter-spacing="-0.8">w(H)</text>
<text x="351" y="514" font-size="34" class="i">H</text>
</svg>
</body></html>
